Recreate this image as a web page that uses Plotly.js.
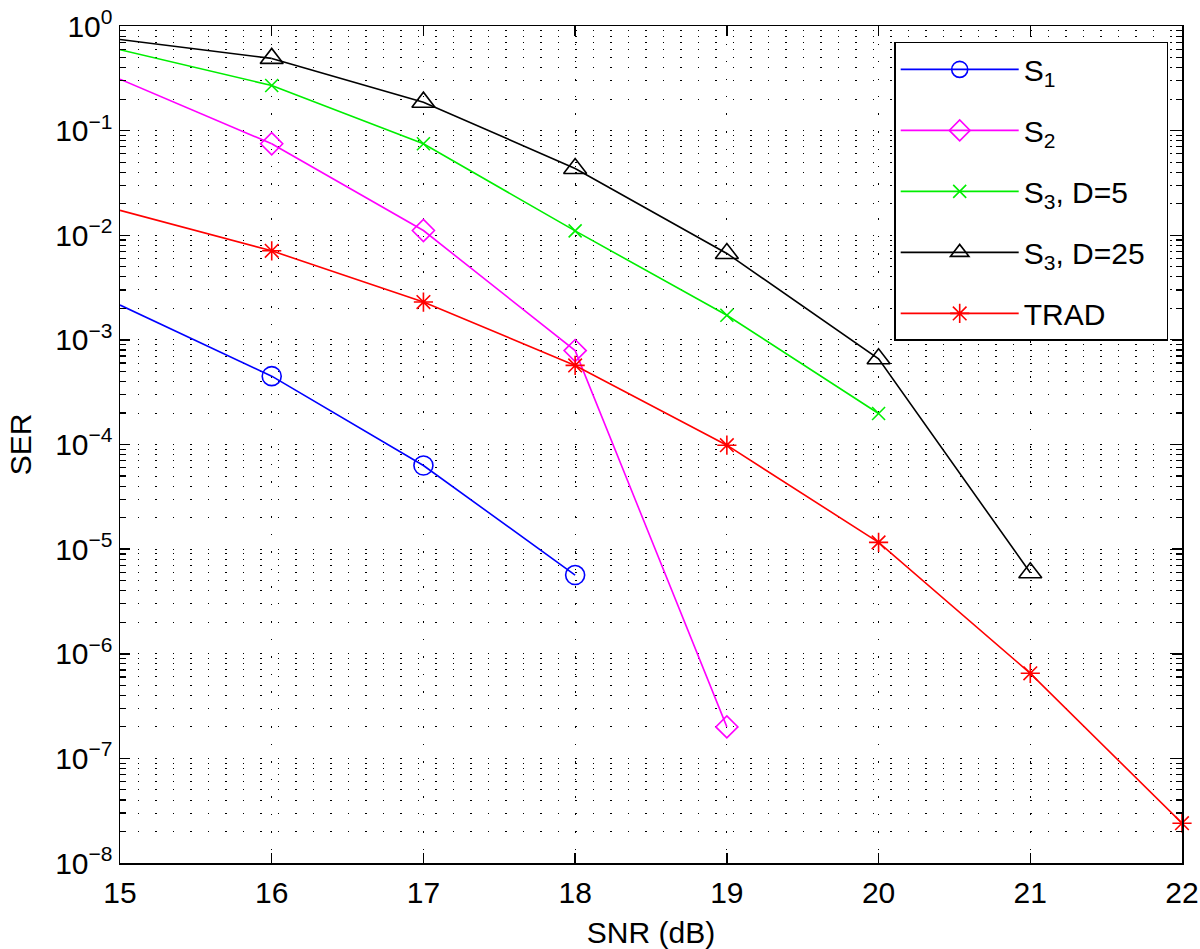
<!DOCTYPE html>
<html>
<head>
<meta charset="utf-8">
<script src="https://cdn.plot.ly/plotly-3.0.1.min.js"></script>
<style>html,body{margin:0;padding:0;background:#fff;}#chart{width:1200px;height:949px;}</style>
</head>
<body>
<div id="chart"></div>
<script>
// ---- data ----
const snr = [15, 16, 17, 18, 19, 20, 21, 22];
const serS1 = [2.15e-3, 4.5e-4, 6.3e-5, 5.65e-6];
const serS2 = [0.31, 0.075, 0.0111, 7.9e-4, 2.0e-7];
const serS3D5 = [0.593, 0.27, 0.075, 0.011, 1.72e-3, 1.98e-4];
const serS3D25 = [0.743, 0.49, 0.187, 0.0435, 6.7e-3, 6.6e-4, 5.94e-6];
const serTRAD = [0.0173, 7.1e-3, 2.3e-3, 5.7e-4, 9.85e-5, 1.16e-5, 6.5e-7, 2.4e-8];

const seriesNames = ['S<sub>1</sub>', 'S<sub>2</sub>', 'S<sub>3</sub>, D=5', 'S<sub>3</sub>, D=25&nbsp;&nbsp;', 'TRAD'];
const xTickVals = [15, 16, 17, 18, 19, 20, 21, 22];
const xTickText = ['15', '16', '17', '18', '19', '20', '21', '22'];
const yTickVals = [1, 1e-1, 1e-2, 1e-3, 1e-4, 1e-5, 1e-6, 1e-7, 1e-8];
const yTickText = ['10<sup>0</sup>', '10<sup>\u22121</sup>', '10<sup>\u22122</sup>', '10<sup>\u22123</sup>',
  '10<sup>\u22124</sup>', '10<sup>\u22125</sup>', '10<sup>\u22126</sup>', '10<sup>\u22127</sup>', '10<sup>\u22128</sup>'];

// minor tick positions for the log axis (2..9 x 10^n)
const yMinorVals = [];
for (let e = -8; e < 0; e++) {
  for (let k = 2; k <= 9; k++) yMinorVals.push(k * Math.pow(10, e));
}

const traces = [];
function add(name, y, color, symbol, msize, group) {
  // segment from the left axis edge (x=15) to x=16: line only, no marker (as in the reference)
  traces.push({
    type: 'scatter', mode: 'lines', showlegend: false, hoverinfo: 'skip', legendgroup: group,
    x: snr.slice(0, 2), y: y.slice(0, 2),
    line: {color: color, width: 1.6}
  });
  // remaining points with markers, carries the legend entry
  traces.push({
    type: 'scatter', mode: 'lines+markers', name: name, legendgroup: group,
    x: snr.slice(1, y.length), y: y.slice(1),
    line: {color: color, width: 1.6},
    marker: {symbol: symbol, size: msize, color: color, line: {color: color, width: 1.6}},
    cliponaxis: false
  });
}

add(seriesNames[0], serS1, '#0000ff', 'circle-open', 19, 'g1');
add(seriesNames[1], serS2, '#ff00ff', 'diamond-open', 17, 'g2');
add(seriesNames[2], serS3D5, '#00ee00', 'x-thin-open', 13, 'g3');
add(seriesNames[3], serS3D25, '#000000', 'triangle-up-open', 20, 'g4');
add(seriesNames[4], serTRAD, '#ff0000', 'asterisk-open', 16, 'g5');

const fam = 'Liberation Sans, Arial, Helvetica, sans-serif';
const font = {family: fam, size: 30, color: '#000'};
const gridDash = '1.5px,16px';

const layout = {
  width: 1200, height: 949,
  margin: {l: 120, r: 18, t: 26, b: 86},
  paper_bgcolor: '#fff', plot_bgcolor: '#fff',
  font: font,
  showlegend: true,
  legend: {
    x: 0.729, y: 0.981, xanchor: 'left', yanchor: 'top',
    bgcolor: '#fff', bordercolor: '#000', borderwidth: 1.5,
    font: {family: fam, size: 30, color: '#000'},
    traceorder: 'grouped', tracegroupgap: 19,
    itemwidth: 118
  },
  xaxis: {
    range: [15, 22], type: 'linear',
    tickmode: 'array', tickvals: xTickVals, ticktext: xTickText,
    ticks: 'inside', ticklen: 10, tickwidth: 1.5, tickcolor: '#000',
    ticklabelstandoff: 2,
    showline: true, linecolor: '#000', linewidth: 1.5, mirror: 'allticks',
    showgrid: true, gridcolor: '#000', gridwidth: 1, griddash: gridDash,
    zeroline: false,
    tickfont: font,
    title: {text: 'SNR (dB)', font: font, standoff: 14}
  },
  yaxis: {
    type: 'log', range: [-8, 0],
    tickmode: 'array', tickvals: yTickVals, ticktext: yTickText,
    ticks: 'inside', ticklen: 10, tickwidth: 1.5, tickcolor: '#000',
    showline: true, linecolor: '#000', linewidth: 1.5, mirror: 'allticks',
    showgrid: true, gridcolor: '#000', gridwidth: 1, griddash: gridDash,
    zeroline: false,
    tickfont: font,
    minor: {
      tickmode: 'array', tickvals: yMinorVals,
      ticks: 'inside', ticklen: 6, tickwidth: 1.2, tickcolor: '#000',
      showgrid: true, gridcolor: '#000', gridwidth: 1, griddash: gridDash
    },
    title: {text: 'SER', font: font, standoff: 14}
  }
};

Plotly.newPlot('chart', traces, layout, {displayModeBar: false, staticPlot: true});
</script>
</body>
</html>
